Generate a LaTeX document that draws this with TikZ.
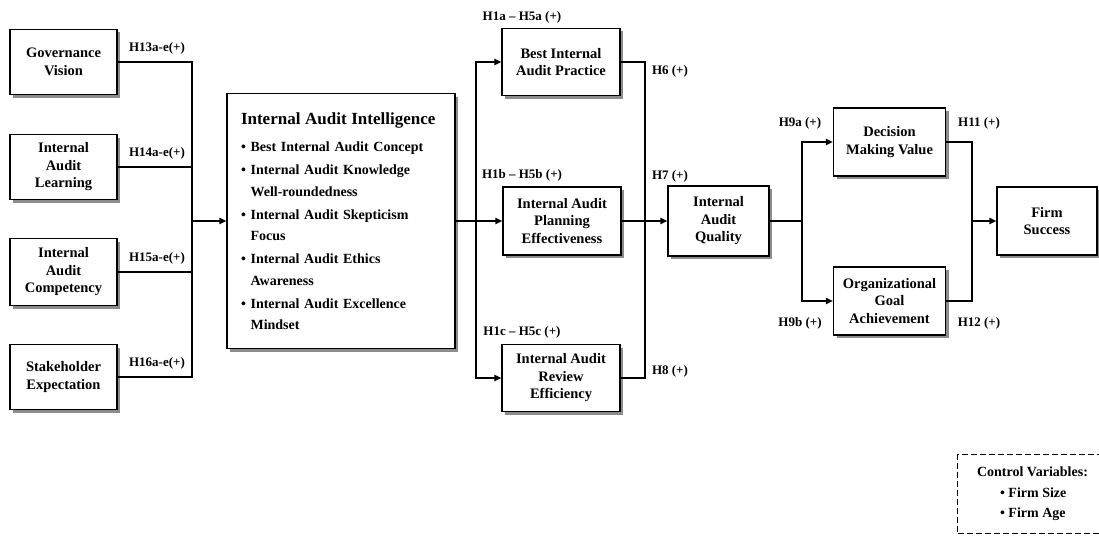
\documentclass[tikz,border=0pt]{standalone}
\usepackage{fontspec}
\setmainfont{Liberation Serif}
\usetikzlibrary{arrows.meta,shadows}

\begin{document}
\begin{tikzpicture}[x=1pt, y=-1pt,
        >={Triangle[length=7pt,width=6pt]},
        box/.style={draw, line width=1.1pt, fill=white, align=center, inner sep=0pt,
            font=\fontsize{14.5}{17.5}\selectfont\bfseries,
            drop shadow={shadow xshift=3pt, shadow yshift=-3pt, fill=black!45, opacity=1}},
        hyp/.style={inner sep=0pt, font=\fontsize{13}{15}\selectfont\bfseries},
        link/.style={line width=1.7pt}]

    \useasboundingbox (0,0) rectangle (1099,535);

    % antecedents
    \node [box, minimum width=107pt, minimum height=65pt] (gv) at (63.5,62)
        {Governance\\Vision};
    \node [box, minimum width=107pt, minimum height=65pt] (ial) at (63.5,167)
        {Internal\\Audit\\Learning};
    \node [box, minimum width=107pt, minimum height=67pt] (iac) at (63.5,272)
        {Internal\\Audit\\Competency};
    \node [box, minimum width=107pt, minimum height=65pt] (se) at (63.5,377)
        {Stakeholder\\Expectation};

    \node [hyp] (h13) at (157,48) {H13a-e(+)};
    \node [hyp] (h14) at (157,153) {H14a-e(+)};
    \node [hyp] (h15) at (157,258) {H15a-e(+)};
    \node [hyp] (h16) at (157,363) {H16a-e(+)};

    % internal audit intelligence
    \node [box, minimum width=228pt, minimum height=255pt, text width=200pt,
        align=left, font=\fontsize{14}{21.5}\selectfont\bfseries] (iai) at (341,221)
        {{\fontsize{17}{20}\selectfont Internal Audit Intelligence}\\[6pt]
         \textbullet\ Best Internal Audit Concept\\[1.5pt]
         \textbullet\ Internal Audit Knowledge\\
         \hphantom{\textbullet\ }Well-roundedness\\[1.5pt]
         \textbullet\ Internal Audit Skepticism\\
         \hphantom{\textbullet\ }Focus\\[1.5pt]
         \textbullet\ Internal Audit Ethics\\
         \hphantom{\textbullet\ }Awareness\\[1.5pt]
         \textbullet\ Internal Audit Excellence\\
         \hphantom{\textbullet\ }Mindset};

    \coordinate (b1) at (192,221);
    \draw [link] (gv.east) -| (b1) |- (se.east);
    \draw [link] (ial.east) -- (ial.east -| b1);
    \draw [link] (iac.east) -- (iac.east -| b1);
    \draw [link, ->] (b1) -- (iai.west);

    % audit outcomes
    \node [box, minimum width=118pt, minimum height=67pt] (biap) at (561,62)
        {Best Internal\\Audit Practice};
    \node [box, minimum width=118pt, minimum height=68pt] (iape) at (562,221)
        {Internal Audit\\Planning\\Effectiveness};
    \node [box, minimum width=118pt, minimum height=67pt] (iare) at (561,378)
        {Internal Audit\\Review\\Efficiency};

    \node [hyp] (h1a) at (522,17) {H1a -- H5a (+)};
    \node [hyp] (h1b) at (522,175) {H1b -- H5b (+)};
    \node [hyp] (h1c) at (522,332) {H1c -- H5c (+)};

    \coordinate (b2) at (476,221);
    \draw [link] (iai.east) -- (b2);
    \draw [link, ->] (b2) |- (biap.west);
    \draw [link, ->] (b2) -- (iape.west);
    \draw [link, ->] (b2) |- (iare.west);

    \node [hyp] (h6) at (670,71) {H6 (+)};
    \node [hyp] (h7) at (670,176) {H7 (+)};
    \node [hyp] (h8) at (670,371) {H8 (+)};

    % audit quality
    \node [box, minimum width=101pt, minimum height=70pt] (iaq) at (718.5,221)
        {Internal\\Audit\\Quality};

    \coordinate (b3) at (645,221);
    \draw [link] (biap.east) -| (b3) |- (iare.east);
    \draw [link, ->] (iape.east) -- (iaq.west);

    % consequences
    \node [box, minimum width=112pt, minimum height=68pt] (dmv) at (889.5,142)
        {Decision\\Making Value};
    \node [box, minimum width=112pt, minimum height=68pt] (oga) at (889.5,301)
        {Organizational\\Goal\\Achievement};
    \node [box, minimum width=100pt, minimum height=68pt] (fs) at (1047,221)
        {Firm\\Success};

    \node [hyp] (h9a) at (800,123) {H9a (+)};
    \node [hyp] (h9b) at (800,323) {H9b (+)};
    \node [hyp] (h11) at (979,123) {H11 (+)};
    \node [hyp] (h12) at (979,323) {H12 (+)};

    \coordinate (b4) at (802,221);
    \draw [link] (iaq.east) -- (b4);
    \draw [link, ->] (b4) |- (dmv.west);
    \draw [link, ->] (b4) |- (oga.west);

    \coordinate (b5) at (972,221);
    \draw [link] (dmv.east) -| (b5) |- (oga.east);
    \draw [link, ->] (b5) -- (fs.west);

    % controls
    \node [draw, dashed, dash pattern=on 6pt off 3pt, line width=1pt, anchor=north west,
        minimum width=150pt, minimum height=79pt, align=left,
        font=\fontsize{14}{20.5}\selectfont\bfseries] (ctrl) at (957,454)
        {Control Variables:\\
         \hspace{23pt}\textbullet\ Firm Size\\
         \hspace{23pt}\textbullet\ Firm Age};
\end{tikzpicture}
\end{document}
